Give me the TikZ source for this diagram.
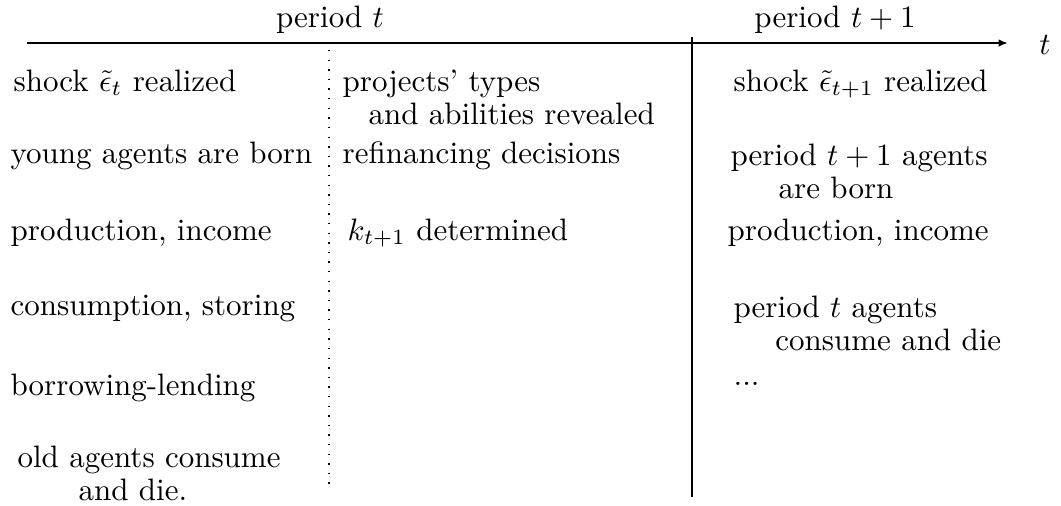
\documentclass[tikz,border=0pt]{standalone}
\usetikzlibrary{arrows.meta}

\begin{document}
\begin{tikzpicture}[x=0.3226pt, y=-0.3226pt]
    \useasboundingbox (0,0) rectangle (1061,505);

    \begin{scope}[>={Latex[length=3pt,width=2.4pt]}, semithick]
        \coordinate (start) at (27,43);
        \coordinate (end)   at (1008,43);
        \coordinate (nowTop) at (692,37);
        \coordinate (nowBot) at (692,497);
        \coordinate (midTop) at (329,50);
        \coordinate (midBot) at (329,489);
        \node[inner sep=0pt] (t) at (1045,45) {$t$};

        \draw[->] (start) -- (end);
        \draw (nowTop) -- (nowBot);
        \draw[line width=0.45pt, dash pattern=on 0.45pt off 2.65pt] (midTop) -- (midBot);
    \end{scope}

    \begin{scope}[every node/.style={inner sep=0pt, anchor=base}]
        \node (perT)  at (330,27) {period $t$};
        \node (perTT) at (835,27) {period $t+1$};
    \end{scope}

    % anchor = base west: multi-line nodes sit on the baseline of their last line
    \begin{scope}[every node/.style={inner sep=0pt, anchor=base west, align=left,
                  font=\fontsize{10pt}{10.6pt}\selectfont}]
        % period t, before the types are known
        \node (shockT)     at (13,91)  {shock $\tilde{\epsilon}_t$ realized};
        \node (youngBorn)  at (10,163) {young agents are born};
        \node (prodT)      at (10,240) {production, income};
        \node (consT)      at (10,315) {consumption, storing};
        \node (borrowLend) at (10,395) {borrowing-lending};
        \node (oldDie)     at (17,500) {old agents consume\\\hspace*{19.7pt}and die.};

        % period t, after the types are known
        \node (typesRev) at (342,124) {projects' types\\\hspace*{8.4pt}and abilities revealed};
        \node (refin)    at (342,163) {refinancing decisions};
        \node (kDet)     at (347,240) {$k_{t+1}$ determined};

        % period t+1
        \node (shockTT)    at (733,91)  {shock $\tilde{\epsilon}_{t+1}$ realized};
        \node (agentsBorn) at (730,198) {period $t+1$ agents\\\hspace*{15.5pt}are born};
        \node (prodTT)     at (727,240) {production, income};
        \node (agentsDie)  at (733,350) {period $t$ agents\\\hspace*{13.5pt}consume and die};
        \node (dots)       at (733,385) {...};
    \end{scope}
\end{tikzpicture}
\end{document}
